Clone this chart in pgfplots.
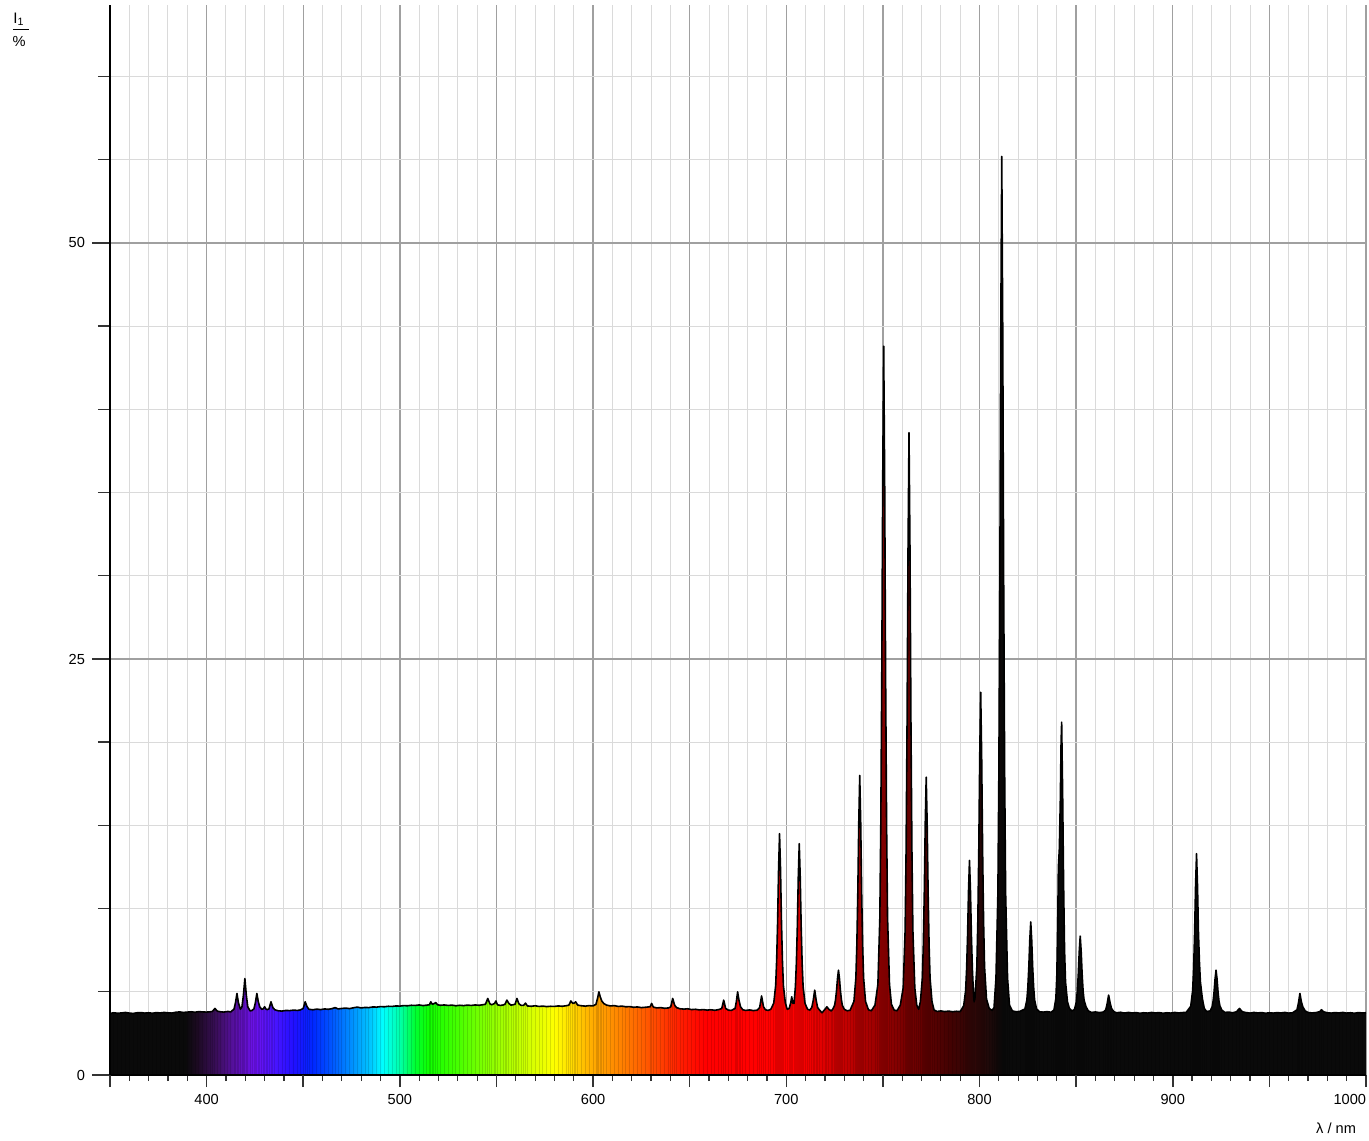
\documentclass[border=0pt]{standalone}
\usepackage{fontspec}
\setmainfont{Liberation Sans}
\usepackage{pgfplots}
\pgfplotsset{compat=1.18}
\usepackage{pgfplotstable}

\definecolor{gridminor}{HTML}{DADADA}
\definecolor{gridmajor}{HTML}{A0A0A0}
\definecolor{tickc}{HTML}{333333}
\definecolor{blk}{HTML}{0A0A0A}
\definecolor{c395}{HTML}{1C0A22}
\definecolor{c405}{HTML}{3A0E5A}
\definecolor{c415}{HTML}{5A10A8}
\definecolor{c425}{HTML}{6C12EE}
\definecolor{c435}{HTML}{4A14FF}
\definecolor{c445}{HTML}{2010FF}
\definecolor{c455}{HTML}{0028FF}
\definecolor{c465}{HTML}{0058FF}
\definecolor{c475}{HTML}{0090FF}
\definecolor{c485}{HTML}{00C8FF}
\definecolor{c491}{HTML}{00FFFF}
\definecolor{c500}{HTML}{00FFA8}
\definecolor{c508}{HTML}{00FF30}
\definecolor{c515}{HTML}{10FF00}
\definecolor{c530}{HTML}{48FF00}
\definecolor{c550}{HTML}{98FF00}
\definecolor{c565}{HTML}{CCFF00}
\definecolor{c580}{HTML}{FFFF00}
\definecolor{c590}{HTML}{FFD400}
\definecolor{c600}{HTML}{FFAA00}
\definecolor{c615}{HTML}{FF8000}
\definecolor{c630}{HTML}{FF5000}
\definecolor{c645}{HTML}{FF1E00}
\definecolor{c658}{HTML}{FF0000}
\definecolor{c725}{HTML}{D00000}
\definecolor{c745}{HTML}{A00000}
\definecolor{c765}{HTML}{700000}
\definecolor{c785}{HTML}{420202}
\definecolor{c800}{HTML}{2A0808}

% path bounding box (350..1000 nm) maps to 25bp..75bp
\pgfdeclarehorizontalshading{spectrum}{100bp}{
  color(0bp)=(blk); color(25bp)=(blk); color(28.0bp)=(blk);
  color(28.46bp)=(c395); color(29.23bp)=(c405); color(30.0bp)=(c415);
  color(30.77bp)=(c425); color(31.54bp)=(c435); color(32.31bp)=(c445);
  color(33.08bp)=(c455); color(33.85bp)=(c465); color(34.62bp)=(c475);
  color(35.38bp)=(c485); color(35.85bp)=(c491); color(36.54bp)=(c500);
  color(37.15bp)=(c508); color(37.69bp)=(c515); color(38.85bp)=(c530);
  color(40.38bp)=(c550); color(41.54bp)=(c565); color(42.69bp)=(c580);
  color(43.46bp)=(c590); color(44.23bp)=(c600); color(45.38bp)=(c615);
  color(46.54bp)=(c630); color(47.69bp)=(c645); color(48.69bp)=(c658);
  color(52.31bp)=(c658); color(53.85bp)=(c725); color(55.38bp)=(c745);
  color(56.92bp)=(c765); color(58.46bp)=(c785); color(59.62bp)=(c800);
  color(60.54bp)=(blk); color(75bp)=(blk); color(100bp)=(blk)}

\pgfplotstableread{
x y
350 3.70
352 3.74
354 3.71
356 3.73
358 3.76
360 3.72
362 3.70
364 3.74
366 3.75
368 3.72
370 3.74
372 3.71
374 3.75
376 3.73
378 3.76
380 3.74
382 3.72
384 3.77
386 3.79
388 3.76
390 3.78
392 3.80
394 3.77
396 3.81
398 3.79
400 3.78
402 3.80
403 3.82
404.3 4.00
405.5 3.84
407 3.80
409 3.78
411 3.82
412.5 3.79
414.2 3.97
414.95 4.35
415.7 4.90
416.45 4.35
417.5 3.95
418.3 4.10
419.05 4.80
419.8 5.80
420.55 4.80
421.3 4.10
422.5 3.85
423.5 3.88
424.5 3.98
425.25 4.35
426 4.90
426.75 4.40
427.5 4.10
428.5 3.95
429.3 3.98
430 4.10
430.8 3.95
431.5 3.93
432.3 3.98
433.3 4.40
434.3 4.05
435.3 3.92
437 3.86
439 3.84
441 3.88
443 3.87
445 3.90
447 3.88
448.5 3.91
450 4.00
451 4.40
452 4.10
453 3.95
455 3.92
457 3.96
459 3.93
461 3.97
463 3.95
465 3.99
466.5 4.05
468 3.97
470 4.00
472 4.02
474 3.99
476 4.04
478 4.08
480 4.03
482 4.06
484 4.05
486 4.09
488 4.08
490 4.11
492 4.10
494 4.13
496 4.12
498 4.15
500 4.14
502 4.17
504 4.16
506 4.19
508 4.18
510 4.21
512 4.17
514 4.20
515.3 4.22
516 4.40
516.8 4.25
517.5 4.28
518.6 4.35
519.5 4.22
521 4.19
523 4.21
525 4.18
527 4.20
529 4.16
531 4.19
533 4.17
535 4.20
537 4.18
539 4.21
541 4.19
542.8 4.22
544.3 4.25
545.5 4.60
546.6 4.28
547.5 4.22
549 4.30
549.7 4.45
550.5 4.22
552 4.18
553.5 4.21
554.4 4.25
555.4 4.50
556.4 4.30
557.5 4.20
558.6 4.22
559.6 4.25
560.6 4.60
561.6 4.28
562.8 4.18
564 4.18
565 4.32
566 4.15
568 4.13
570 4.16
572 4.12
574 4.14
576 4.11
578 4.13
580 4.12
582 4.15
584 4.13
586 4.16
587.5 4.20
588.5 4.45
589.5 4.30
590.2 4.32
591 4.40
592 4.20
594 4.16
596 4.14
598 4.17
600 4.15
601.5 4.25
602.3 4.60
603 5.00
603.7 4.70
604.5 4.45
605.5 4.30
607 4.20
609 4.15
611 4.17
613 4.12
615 4.14
617 4.10
619 4.11
621 4.07
623 4.09
625 4.05
627 4.07
629.5 4.10
630.3 4.30
631.2 4.08
633 4.03
635 4.05
637 4.01
639 4.03
640.2 4.10
641.2 4.60
642.2 4.20
643.2 4.05
645 3.98
647 3.96
649 3.98
651 3.93
653 3.95
655 3.91
657 3.93
659 3.90
661 3.92
663 3.89
665 3.93
666.6 4.00
667.6 4.50
668.6 4.00
670 3.90
671.5 3.88
673.5 4.00
674.2 4.45
674.8 5.00
675.5 4.50
676.3 4.10
677.5 3.92
679 3.88
681 3.91
683 3.87
685 3.90
686.2 4.05
687.2 4.75
688.2 4.10
689.2 3.92
690.5 3.88
692 3.95
693.5 4.32
694.5 5.38
695 6.87
695.5 9.20
696 12.38
696.5 14.50
697 12.38
697.5 9.20
698 6.87
698.5 5.38
699.5 4.32
700.5 3.95
701.5 4.00
702.3 4.35
702.8 4.70
703.4 4.30
704 4.30
704.7 5.30
705.2 6.70
705.7 8.90
706.2 11.90
706.7 13.90
707.2 11.90
707.7 8.90
708.2 6.70
708.7 5.30
709.7 4.30
711 3.95
712.2 3.90
713.2 4.06
713.95 4.49
714.7 5.10
715.45 4.49
716.2 4.06
717.2 3.90
718.5 3.74
720 3.95
721 4.10
722 3.95
723.2 3.85
724 3.95
725 4.19
725.5 4.54
726 5.08
726.5 5.81
727 6.30
727.5 5.81
728 5.08
728.5 4.54
729 4.19
730 3.95
731.5 3.86
733 3.89
735 4.42
736 5.83
736.5 7.81
737 10.93
737.5 15.17
738 18.00
738.5 15.17
739 10.93
739.5 7.81
740 5.83
741 4.42
742.5 3.92
744 3.86
745.9 4.20
747.4 5.45
748.4 9.44
748.9 15.04
749.4 23.83
749.9 35.81
750.4 43.80
750.9 35.81
751.4 23.83
751.9 15.04
752.4 9.44
753.4 5.45
754.4 4.25
755.8 3.90
757.3 3.86
759 4.20
760.5 5.24
761.5 8.72
762 13.58
762.5 21.23
763 31.65
763.5 38.60
764 31.65
764.5 21.23
765 13.58
765.5 8.72
766.5 5.24
767.5 4.20
768.5 3.95
769.4 4.41
770.4 5.82
770.9 7.78
771.4 10.88
771.9 15.09
772.4 17.90
772.9 15.09
773.4 10.88
773.9 7.78
774.4 5.82
775.4 4.41
776.5 3.90
778 3.82
780 3.85
782 3.81
784 3.84
786 3.80
788 3.83
790 3.81
791.8 4.16
792.8 5.07
793.3 6.35
793.8 8.35
794.3 11.08
794.8 12.90
795.3 11.08
795.8 8.35
796.3 6.35
796.8 5.07
797.2 4.40
797.6 4.57
798.6 6.49
799.1 9.18
799.6 13.40
800.1 19.16
800.6 23.00
801.1 19.16
801.6 13.40
802.1 9.18
802.6 6.49
803.6 4.57
805 4.00
806.5 3.88
807.5 4.05
808.5 5.81
809.5 10.95
810 18.16
810.5 29.48
811 44.91
811.5 55.20
812 44.91
812.5 29.48
813 18.16
813.5 10.95
814.5 5.81
815.5 4.20
817 3.85
819 3.80
821 3.83
823.5 3.97
824.5 4.51
825 5.28
825.5 6.48
826 8.11
826.5 9.20
827 8.11
827.5 6.48
828 5.28
828.5 4.51
829.5 3.97
831 3.80
833 3.78
835 3.81
837 3.77
838.5 3.90
839.5 4.60
840 6.00
840.5 9.50
840.8 12.50
841.3 13.60
841.8 16.50
842.2 20.00
842.5 21.20
843 17.00
843.5 11.50
844 7.50
844.5 5.60
845.5 4.40
846.5 4.00
847.8 3.85
849.1 3.93
850.1 4.39
850.6 5.04
851.1 6.05
851.6 7.43
852.1 8.35
852.6 7.43
853.1 6.05
853.6 5.04
854.1 4.50
855.1 4.10
856.3 3.85
858 3.76
860 3.79
862 3.75
864 3.78
865.3 3.91
866.05 4.28
866.8 4.80
867.55 4.35
868.3 4.00
869.5 3.80
871 3.74
873 3.77
875 3.72
877 3.76
879 3.73
881 3.75
883 3.71
885 3.74
887 3.72
889 3.76
891 3.73
893 3.75
895 3.71
897 3.74
899 3.72
901 3.76
903 3.73
905 3.75
907 3.77
909.3 4.13
910.3 5.09
910.8 6.42
911.3 8.53
911.8 11.39
912.3 13.30
912.8 11.39
913.3 8.53
913.8 6.80
914.3 5.60
915.3 4.60
916.3 4.00
917.5 3.82
919.4 3.85
920.4 4.11
920.9 4.46
921.4 5.03
921.9 5.79
922.4 6.30
922.9 5.79
923.4 5.03
923.9 4.46
924.4 4.15
925.4 3.90
927 3.76
929 3.78
931 3.74
933 3.80
934.5 4.00
936 3.80
938 3.75
940 3.72
942 3.76
944 3.73
946 3.75
948 3.71
950 3.74
952 3.72
954 3.75
956 3.73
958 3.76
960 3.72
962 3.74
964.3 3.92
965.05 4.33
965.8 4.90
966.55 4.40
967.3 4.10
968.5 3.85
970 3.76
972 3.73
974 3.75
976 3.80
977 3.92
978 3.80
980 3.74
982 3.72
984 3.75
986 3.73
988 3.76
990 3.72
992 3.74
994 3.71
996 3.75
998 3.73
1000 3.74
}\spec

\pgfplotsset{
  frame/.style={
    scale only axis, width=628pt, height=535pt,
    xmin=350, xmax=1000, ymin=0, ymax=64.3,
    at={(0,0)}, anchor=south west,
    tick label style={font=\fontsize{7.3}{8}\selectfont, text=black},
    /pgf/number format/assume math mode=true,
    /pgf/number format/1000 sep={},
  }
}

\begin{document}
\begin{tikzpicture}
% grid and spectrum
\begin{axis}[frame,
  axis line style={draw=none},
  tick style={draw=none},
  xtick={350,400,...,1000}, minor xtick={350,360,...,1000},
  ytick={0,25,50}, minor ytick={0,5,...,60},
  xticklabels={}, yticklabels={},
  grid=both,
  minor grid style={gridminor, line width=0.5pt},
  major grid style={gridmajor, line width=0.7pt},
]
\addplot[draw=none, shading=spectrum] table[x=x, y=y] {\spec} \closedcycle;
% faint vertical striping of the filled area, one stroke per sample
\addplot[ycomb, black, draw opacity=0.13, line width=0.45pt] table[x=x, y=y] {\spec};
\addplot[black, line width=0.8pt, line join=round] table[x=x, y=y] {\spec};
\end{axis}
% x axis
\begin{axis}[frame,
  axis x line*=bottom, hide y axis,
  axis line style={-, black, line width=1pt},
  xtick={400,500,...,1000},
  xticklabels={400,500,600,700,800,900,\llap{1000}},
  extra x ticks={350,450,...,950}, extra x tick labels={},
  minor xtick={350,360,...,1000},
  tick align=outside,
  major tick length=6pt, minor tick length=3pt,
  major tick style={tickc, line width=0.8pt},
  minor tick style={tickc, line width=0.6pt},
]
\end{axis}
% y axis
\begin{axis}[frame,
  axis y line*=left, hide x axis,
  axis line style={-, black, line width=1pt},
  ytick={0,25,50}, minor ytick={5,10,...,60},
  tick align=outside,
  major tick length=9pt, minor tick length=6pt,
  major tick style={tickc, line width=0.9pt},
  minor tick style={tickc, line width=0.7pt},
]
\end{axis}
% axis titles
\node[anchor=base, font=\fontsize{7.6}{8}\selectfont] at (-45.5pt,525.5pt) {I\textsubscript{1}};
\draw[black, line width=0.5pt] (-48.5pt,522.5pt) -- (-40.5pt,522.5pt);
\node[anchor=base, font=\fontsize{7.3}{8}\selectfont] at (-45.5pt,514pt) {\%};
\node[anchor=base east, font=\fontsize{7.3}{8}\selectfont] at (626.5pt,-29pt) {λ / nm};
\pgfresetboundingbox
\path[use as bounding box] (-55pt,-32.5pt) rectangle (629.5pt,537.5pt);
\end{tikzpicture}
\end{document}
